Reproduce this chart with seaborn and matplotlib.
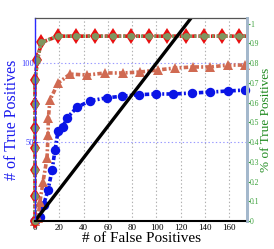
import matplotlib
matplotlib.use("Agg")
import matplotlib.pyplot as plt
import seaborn as sns

# ROC-like curves: false positives vs true positives (125 positives total)
total_pos = 125

red_fp = [0, 0, 0, 0, 0, 0, 0, 2, 5, 19, 34, 49, 64, 79, 94, 109, 124, 139, 154, 168, 175]
red_tp = [0, 16, 32, 46, 59, 74, 89, 102, 113, 117, 117, 117, 117, 117, 117, 117, 117, 117, 117, 117, 117]

green_fp = [0, 0, 0, 0, 0, 0, 0, 2, 5, 19, 34, 49, 64, 79, 94, 109, 124, 139, 154, 168, 175]
green_tp = [0, 16, 32, 46, 59, 74, 89, 102, 113, 117, 117, 117, 117, 117, 117, 117, 117, 117, 117, 117, 117]

tri_fp = [0, 2.5, 4, 6.6, 9.9, 10.7, 11, 12.3, 19, 28.8, 42.8, 57.6, 72.4, 86.4, 101, 115, 130, 144, 159, 173]
tri_tp = [0, 2, 12, 24.7, 39.9, 54.4, 65, 76.6, 87.3, 93, 92.4, 93.7, 93.7, 94.3, 95.6, 96.8, 97.5, 97.5, 98.7, 98.7]

blue_fp = [0, 4, 7, 10.7, 14, 16.5, 19, 23, 26, 34.6, 45, 59, 72, 86, 100, 114, 129, 144, 159, 173]
blue_tp = [0, 2.5, 10, 19.6, 32, 45, 57, 59.5, 65, 72, 76, 78, 79, 80, 80.4, 80.4, 81, 81.6, 82.3, 82.9]

diag_x = [0, 180]
diag_y = [0, 180]

x_ticks = [0, 20, 40, 60, 80, 100, 120, 140, 160]
left_ticks = [0, 50, 100]
right_ticks = [0, 0.1, 0.2, 0.3, 0.4, 0.5, 0.6, 0.7, 0.8, 0.9, 1]
right_labels = ["0", "0.1", "0.2", "0.3", "0.4", "0.5", "0.6", "0.7", "0.8", "0.9", "1"]

sns.set_style("white")
plt.rcParams['font.family'] = ['Liberation Serif', 'DejaVu Serif']
plt.rcParams['lines.scale_dashes'] = False

fig = plt.figure(figsize=(2.74, 2.49), dpi=100)
ax = fig.add_axes([35 / 274, 1 - 221 / 249, 212 / 274, 203 / 249])

common = dict(estimator=None, sort=False, ax=ax, legend=False)
dashdot = (0, (3.2, 1.6, 1.4, 1.6))

sns.lineplot(x=blue_fp, y=blue_tp, color="#0a14e6", linestyle=dashdot, linewidth=2.6,
             marker="o", markersize=6.8, markeredgewidth=0, clip_on=False, **common)
sns.lineplot(x=tri_fp, y=tri_tp, color="#d06a52", linestyle=dashdot, linewidth=2.6,
             marker="^", markersize=7.5, markeredgewidth=0, clip_on=False, **common)
sns.lineplot(x=red_fp, y=red_tp, color="#e81010", linestyle=(0, (3, 1.5)), linewidth=2.6,
             marker="d", markersize=8, markeredgewidth=0, markevery=list(range(len(red_fp) - 1)),
             clip_on=False, **common)
sns.lineplot(x=green_fp, y=green_tp, color="#7d9660", linestyle=(0, (1.6, 1.6)), linewidth=2.6,
             marker="o", markersize=5, markeredgewidth=0, markevery=list(range(len(green_fp) - 1)),
             clip_on=False, **common)
sns.lineplot(x=diag_x, y=diag_y, color="black", linestyle="-", linewidth=2.4, **common)

ax.set_xlim(0, 174.5)
ax.set_ylim(0, 128.5)
ax.set_xticks(x_ticks)
ax.set_yticks(left_ticks)
ax.tick_params(axis="x", labelsize=6.5, colors="black", length=0, pad=2)
ax.tick_params(axis="y", labelsize=6, colors="#3a3aff", length=2, direction="in", pad=1)
ax.xaxis.grid(True, linestyle=":", color="#b0b0b0", linewidth=0.8)
ax.yaxis.grid(True, linestyle=":", color="#9a9aff", linewidth=0.8)
ax.set_axisbelow(True)

ax.spines["left"].set_color("#2a2aff")
ax.spines["left"].set_linewidth(1.0)
ax.spines["bottom"].set_color("black")
ax.spines["bottom"].set_linewidth(1.5)
ax.spines["top"].set_color("#555555")
ax.spines["top"].set_linewidth(0.9)
ax.spines["right"].set_color("#a4b8cc")
ax.spines["right"].set_linewidth(2)

ax.set_xlabel("# of False Positives", fontsize=11, color="black", labelpad=0)
ax.set_ylabel("# of True Positives", fontsize=11.5, color="#1a1aee")
ax.yaxis.set_label_coords(-0.073, 0.5)

ax2 = ax.twinx()
ax2.set_ylim(0, 128.5 / total_pos)
ax2.set_yticks(right_ticks)
ax2.set_yticklabels(right_labels)
ax2.tick_params(axis="y", labelsize=5.5, colors="#3aa03a", length=2, direction="out", pad=0.3)
for s in ["left", "top", "bottom"]:
    ax2.spines[s].set_visible(False)
ax2.spines["right"].set_color("#a4b8cc")
ax2.spines["right"].set_linewidth(2)
ax2.set_ylabel("% of True Positives", fontsize=9.5, color="#1f8a1f")
ax2.yaxis.set_label_coords(1.06, 0.5)

fig.savefig("out.png", dpi=100)
